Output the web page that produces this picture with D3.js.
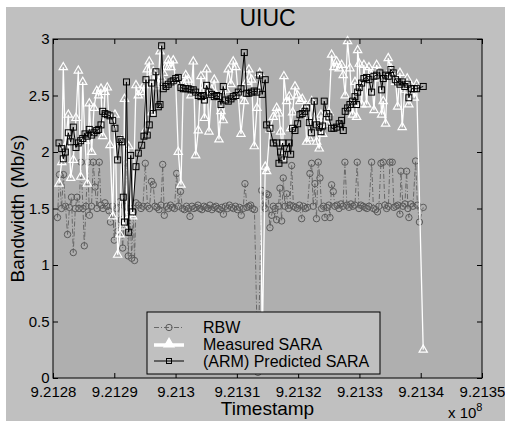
<!DOCTYPE html>
<html>
<head>
<meta charset="utf-8">
<script src="https://d3js.org/d3.v7.min.js"></script>
<style>
  body { margin: 0; background: #fff; }
  text { font-family: "Liberation Sans", Arial, Helvetica, sans-serif; fill: #000; }
</style>
</head>
<body>
<div id="chart"></div>
<script>

// time base (s) and offsets
var tBase = 921280000

var rbwT = [730,1060,1390,1710,2040,2370,2690,3020,3310,3640,
  3920,4240,4570,4890,5110,5380,5660,5950,6280,6570,
  6850,7180,7550,7830,8160,8480,8810,9140,
  9380,9710,10000,10360,10600,10850,11090,11370,11660,
  11990,12280,12560,12840,13100,13300,13540,13950,14360,14680,
  15060,15420,15740,16070,16360,16640,16970,17290,17620,
  17900,18160,18520,18840,19170,19490,19820,
  20180,20470,20800,21130,21450,21780,22070,
  22350,22680,23000,23330,23650,23980,24310,24630,24960,25290,25610,25940,26260,26590,26920,27240,27570,
  27810,28140,28470,28790,29120,29450,29770,30100,30420,
  30720,31040,31320,31650,31970,32250,32540,32870,
  33440,34050,34340,34630,34860,35120,35400,35680,35940,36220,
  36490,36790,37030,37310,37570,37850,38120,38420,38660,
  38940,39230,39560,39890,40210,
  40570,40860,41190,41520,
  41920,42200,42460,42740,42990,
  43280,43560,43830,44130,
  44370,44700,45020,
  45190,45460,45730,46000,46330,46660,46980,47310,
  47630,47960,48290,48610,48940,49270,
  49640,49920,50240,50570,50900,51220,51550,
  51990,52280,52640,52940,53180,
  53510,53880,54160,54440,54730,
  54980,55350,55630,55950,56280,
  56610,56770,57100,57420,
  57700,57910,58070,58400,58730,
  59170,59460,59790,60410]

var rbwV = [1.42,1.80,1.50,1.80,1.52,1.27,1.51,1.60,1.11,1.50,
  1.60,1.50,1.91,1.50,1.17,1.52,1.91,1.44,1.52,1.91,
  1.69,1.50,1.91,1.53,1.50,1.55,1.52,1.48,
  1.38,1.52,1.22,1.50,1.30,1.56,1.40,1.15,1.52,
  1.90,1.08,1.50,1.06,1.47,1.04,1.55,1.53,1.50,1.52,
  1.90,1.52,1.50,1.74,1.71,1.52,1.51,1.49,1.53,
  1.89,1.44,1.52,1.50,1.53,1.51,1.50,
  1.81,1.52,1.65,1.50,1.49,1.52,1.50,
  1.43,1.52,1.50,1.51,1.53,1.50,1.49,1.52,1.51,1.50,1.53,1.49,1.51,1.52,1.50,1.49,1.51,
  1.45,1.52,1.50,1.53,1.51,1.50,1.52,1.49,1.51,
  1.44,1.50,1.72,1.51,1.52,1.53,1.50,1.49,
  0.05,1.66,1.52,1.50,1.63,1.62,1.33,1.44,1.52,1.50,
  1.40,1.52,1.68,1.39,1.77,1.52,1.63,1.50,1.53,
  1.88,1.52,1.51,1.50,1.53,
  1.41,1.52,1.50,1.51,
  1.81,1.90,1.52,1.72,1.41,
  1.91,1.77,1.50,1.52,
  1.42,1.51,1.53,
  1.42,1.71,1.65,1.52,1.53,1.50,1.54,1.52,
  1.91,1.53,1.51,1.54,1.52,1.53,
  1.91,1.50,1.53,1.52,1.51,1.50,1.52,
  1.91,1.50,1.49,1.47,1.52,
  1.90,1.91,1.53,1.50,1.52,
  1.91,1.91,1.51,1.52,1.53,
  1.45,1.83,1.52,1.54,
  1.83,1.50,1.42,1.54,1.52,
  1.92,1.53,1.38,1.51]

var saraT = [980,1420,1680,2010,2500,2890,3310,3750,4130,4520,
  4850,5220,5600,5920,6310,6690,7130,7460,7830,8110,
  8480,8860,9300,9740,10110,10550,10930,11210,11470,11660,
  11990,12350,12680,13000,13540,13920,14470,14840,15170,15380,
  15710,16100,16360,16800,17180,17460,17730,17990,18430,18810,
  19250,19620,20020,20440,20880,21260,21650,22070,22510,22890,
  23280,23700,24140,24520,24710,25070,25450,25890,26310,26700,
  27080,27410,27780,28170,28600,29040,29410,29850,30230,30670,
  31210,31600,31970,32410,32840,33280,33720,34140,34630,34860,
  35400,35940,36490,36870,37140,37470,37680,38120,38550,38780,
  39100,39480,39920,40290,40670,41110,41390,41810,42200,42630,
  43020,43440,43720,44000,44260,44650,45020,45460,45840,46280,
  46700,47100,47360,47680,48070,48450,48890,49270,49540,49710,
  49970,50360,50730,51170,51550,51990,52370,52810,53340,53620,
  53880,54270,54700,55140,55510,55910,56230,56610,56980,57420,
  57800,58070,58510,58940,59330,60410]

var measured = [1.72,1.91,2.75,2.05,2.33,1.77,1.93,2.30,2.72,1.78,
  2.62,2.10,1.72,2.43,2.00,2.39,2.54,2.50,2.56,2.14,
  2.53,2.57,2.06,1.43,2.33,1.09,1.27,2.10,1.34,2.47,
  1.44,2.05,1.45,1.43,2.59,2.50,2.53,2.59,2.20,2.73,
  2.80,2.35,2.71,2.58,2.60,2.89,2.65,2.70,2.75,2.81,
  2.75,2.81,2.62,2.00,1.71,2.60,2.68,2.64,2.50,2.80,
  1.97,2.19,2.67,2.55,2.30,2.73,2.18,2.55,2.64,2.50,
  2.11,2.36,2.28,2.55,2.73,2.60,2.80,2.75,2.50,2.16,
  2.45,2.62,2.73,2.64,2.05,2.39,2.70,0.30,1.87,1.83,
  2.20,2.31,2.39,2.34,2.18,1.95,2.67,2.45,2.49,2.21,
  2.35,2.58,2.50,2.45,2.47,2.40,2.09,2.12,2.45,2.30,
  2.09,2.03,2.33,2.16,2.30,2.25,2.35,2.86,2.75,2.80,
  2.74,2.77,2.68,2.50,2.98,2.74,2.33,2.62,2.31,2.90,
  2.78,2.42,2.77,2.42,2.75,2.68,2.37,2.77,2.65,2.33,
  2.45,2.25,2.83,2.74,2.68,2.62,2.40,2.70,2.22,2.55,
  2.65,2.42,2.58,2.48,2.60,0.25]

var predicted = [2.08,2.03,1.94,2.00,2.17,2.09,2.22,2.04,2.08,2.10,
  2.12,2.16,2.14,2.20,2.15,2.17,2.19,2.20,2.24,2.36,
  2.34,2.33,2.32,2.28,2.21,1.93,2.11,2.09,1.60,1.38,
  2.62,1.29,1.97,1.47,1.87,1.99,2.06,2.14,2.64,2.15,
  2.24,2.61,2.34,2.71,2.40,2.42,2.94,2.56,2.58,2.60,
  2.62,2.63,2.65,2.66,2.57,2.56,2.56,2.56,2.55,2.55,
  2.53,2.50,2.49,2.50,2.46,2.59,2.53,2.51,2.49,2.50,
  2.49,2.42,2.58,2.46,2.45,2.47,2.49,2.50,2.53,2.56,
  2.88,2.52,2.52,2.53,2.54,2.53,2.68,2.51,2.64,2.24,
  2.21,2.08,2.08,1.90,2.00,2.08,1.93,2.03,2.08,1.98,
  2.21,2.19,2.25,2.33,2.34,2.36,2.39,2.26,2.17,2.45,
  2.24,2.22,2.18,2.23,2.45,2.34,2.31,2.21,2.21,2.22,
  2.25,2.28,2.19,2.36,2.39,2.42,2.45,2.49,2.42,2.53,
  2.57,2.61,2.65,2.66,2.64,2.53,2.67,2.68,2.70,2.55,
  2.65,2.68,2.67,2.73,2.70,2.64,2.62,2.60,2.62,2.58,
  2.60,2.48,2.56,2.56,2.56,2.58]

var xTickVals = [921280000,921290000,921300000,921310000,921320000,921330000,921340000,921350000]
var xTickLabels = ["9.2128","9.2129","9.213","9.2131","9.2132","9.2133","9.2134","9.2135"]
var yTickVals = [0,0.5,1,1.5,2,2.5,3]
var yTickLabels = ["0","0.5","1","1.5","2","2.5","3"]
var seriesNames = ["RBW","Measured SARA","(ARM) Predicted SARA"]

var width = 505, height = 421
var plot = { left: 53, right: 482, top: 39, bottom: 378 }

var svg = d3.select("#chart").append("svg")
  .attr("width", width)
  .attr("height", height)

svg.append("rect")
  .attr("x", 6).attr("y", 7)
  .attr("width", width - 6).attr("height", height - 7)
  .attr("fill", "#c0c0c0")

var x = d3.scaleLinear().domain([xTickVals[0], xTickVals[xTickVals.length - 1]]).range([plot.left, plot.right])
var y = d3.scaleLinear().domain([0, 3]).range([plot.bottom, plot.top])

svg.append("rect")
  .attr("x", plot.left).attr("y", plot.top)
  .attr("width", plot.right - plot.left).attr("height", plot.bottom - plot.top)
  .attr("fill", "#afafaf")

var rbw = rbwT.map(function(t, i){ return { t: tBase + t, v: rbwV[i] } })
var meas = saraT.map(function(t, i){ return { t: tBase + t, v: measured[i] } })
var pred = saraT.map(function(t, i){ return { t: tBase + t, v: predicted[i] } })

var line = d3.line()
  .x(function(d){ return x(d.t) })
  .y(function(d){ return y(d.v) })

var g = svg.append("g")

// RBW
g.append("path")
  .datum(rbw)
  .attr("d", line)
  .attr("fill", "none")
  .attr("stroke", "#686868")
  .attr("stroke-width", 1)
  .attr("stroke-dasharray", "5,2,1,2")

g.selectAll(".rbw")
  .data(rbw)
  .enter().append("circle")
  .attr("class", "rbw")
  .attr("cx", function(d){ return x(d.t) })
  .attr("cy", function(d){ return y(d.v) })
  .attr("r", 3.2)
  .attr("fill", "none")
  .attr("stroke", "#5a5a5a")
  .attr("stroke-width", 1)

// measured SARA
g.append("path")
  .datum(meas)
  .attr("d", line)
  .attr("fill", "none")
  .attr("stroke", "#fff")
  .attr("stroke-width", 1.3)

var tri = d3.symbol().type(d3.symbolTriangle).size(30)

g.selectAll(".meas")
  .data(meas)
  .enter().append("path")
  .attr("class", "meas")
  .attr("d", tri)
  .attr("transform", function(d){ return "translate(" + x(d.t) + "," + y(d.v) + ")" })
  .attr("fill", "none")
  .attr("stroke", "#fff")
  .attr("stroke-width", 1.2)

// predicted SARA
g.append("path")
  .datum(pred)
  .attr("d", line)
  .attr("fill", "none")
  .attr("stroke", "#000")
  .attr("stroke-width", 1)

g.selectAll(".pred")
  .data(pred)
  .enter().append("rect")
  .attr("class", "pred")
  .attr("x", function(d){ return x(d.t) - 3 })
  .attr("y", function(d){ return y(d.v) - 3 })
  .attr("width", 6)
  .attr("height", 6)
  .attr("fill", "none")
  .attr("stroke", "#000")
  .attr("stroke-width", 1)

// axes (ticks inside, box on)
function styleAxis(a){
  a.select(".domain").remove()
  a.selectAll("line").attr("stroke", "#000")
  a.selectAll("text").attr("font-size", 15).attr("font-family", null)
}

svg.append("g")
  .attr("transform", "translate(0," + plot.bottom + ")")
  .call(d3.axisBottom(x).tickValues(xTickVals).tickFormat(function(d, i){ return xTickLabels[i] }).tickSize(-5).tickPadding(8))
  .call(styleAxis)

svg.append("g")
  .attr("transform", "translate(0," + plot.top + ")")
  .call(d3.axisTop(x).tickValues(xTickVals).tickFormat("").tickSize(-5))
  .call(styleAxis)

svg.append("g")
  .attr("transform", "translate(" + plot.left + ",0)")
  .call(d3.axisLeft(y).tickValues(yTickVals).tickFormat(function(d, i){ return yTickLabels[i] }).tickSize(-5).tickPadding(3.5))
  .call(styleAxis)

svg.append("g")
  .attr("transform", "translate(" + plot.right + ",0)")
  .call(d3.axisRight(y).tickValues(yTickVals).tickFormat("").tickSize(-5))
  .call(styleAxis)

svg.append("rect")
  .attr("x", plot.left).attr("y", plot.top)
  .attr("width", plot.right - plot.left).attr("height", plot.bottom - plot.top)
  .attr("fill", "none")
  .attr("stroke", "#000")
  .attr("stroke-width", 1)

// labels
svg.append("text")
  .attr("x", (plot.left + plot.right) / 2).attr("y", 26)
  .attr("text-anchor", "middle")
  .attr("font-size", 23)
  .text("UIUC")

svg.append("text")
  .attr("x", (plot.left + plot.right) / 2).attr("y", 415)
  .attr("text-anchor", "middle")
  .attr("font-size", 19)
  .text("Timestamp")

svg.append("text")
  .attr("transform", "translate(24," + (plot.top + plot.bottom) / 2 + ") rotate(-90)")
  .attr("text-anchor", "middle")
  .attr("font-size", 19)
  .text("Bandwidth (Mb/s)")

var expo = svg.append("text")
  .attr("x", 448).attr("y", 418)
  .attr("font-size", 15)
expo.append("tspan").text("x 10")
expo.append("tspan").attr("font-size", 11).attr("dy", -7).text("8")

// legend
var lg = svg.append("g")
lg.append("rect")
  .attr("x", 147).attr("y", 312)
  .attr("width", 233).attr("height", 62)
  .attr("fill", "#c0c0c0")
  .attr("stroke", "#000")
  .attr("stroke-width", 1)

var rowY = [327.5, 344, 361]

lg.append("line").attr("x1", 154).attr("x2", 184).attr("y1", rowY[0]).attr("y2", rowY[0])
  .attr("stroke", "#686868").attr("stroke-dasharray", "5,2,1,2")
lg.append("circle").attr("cx", 169).attr("cy", rowY[0]).attr("r", 3.2)
  .attr("fill", "none").attr("stroke", "#5a5a5a")

lg.append("line").attr("x1", 154).attr("x2", 184).attr("y1", rowY[1] + 1).attr("y2", rowY[1] + 1)
  .attr("stroke", "#fff").attr("stroke-width", 3.5)
lg.append("path").attr("d", d3.symbol().type(d3.symbolTriangle).size(40))
  .attr("transform", "translate(169," + rowY[1] + ")")
  .attr("fill", "#fff").attr("stroke", "#fff").attr("stroke-width", 1.5)

lg.append("line").attr("x1", 154).attr("x2", 184).attr("y1", rowY[2]).attr("y2", rowY[2])
  .attr("stroke", "#000")
lg.append("rect").attr("x", 166.5).attr("y", rowY[2] - 2.5).attr("width", 5).attr("height", 5)
  .attr("fill", "none").attr("stroke", "#000")

lg.selectAll(".lgtext")
  .data(seriesNames)
  .enter().append("text")
  .attr("class", "lgtext")
  .attr("x", 203)
  .attr("y", function(d, i){ return rowY[i] + 5.5 })
  .attr("font-size", 16)
  .text(function(d){ return d })

</script>
</body>
</html>
